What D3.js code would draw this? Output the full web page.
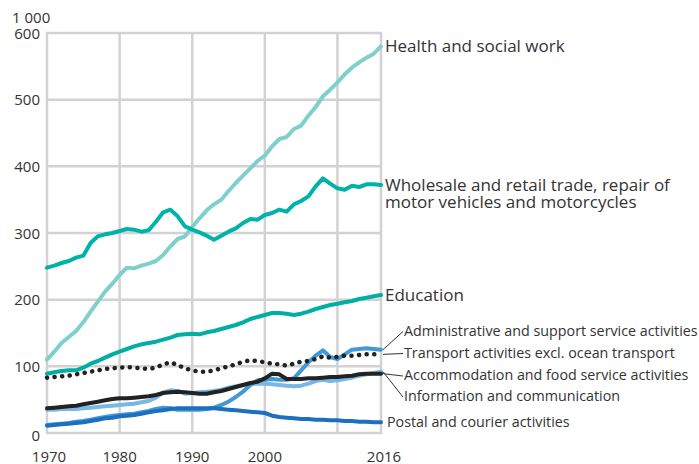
<!DOCTYPE html>
<html>
<head>
<meta charset="utf-8">
<script src="https://cdn.jsdelivr.net/npm/d3@7/dist/d3.min.js"></script>
<style>
  html, body { margin: 0; padding: 0; background: #fff; }
  svg { display: block; }
  text { font-family: "Open Sans", "Noto Sans", sans-serif; fill: #333; }
</style>
</head>
<body>
<svg id="chart" width="699" height="464"></svg>
<script>
// Employment by industry, thousands of persons, 1970–2016
const years = d3.range(1970, 2017);

const health = [110,122,135,144,153,166,182,197,212,224,237,248,247,251,254,258,267,280,291,295,
  309,322,334,343,350,363,375,386,397,408,416,430,441,444,456,461,476,489,505,515,526,538,548,556,563,569,580];
const wholesale = [248,251,255,258,263,266,285,295,298,300,303,306,305,302,304,317,331,335,325,310,
  305,301,296,290,296,302,307,315,321,320,327,330,335,332,343,348,355,370,382,374,367,365,371,369,373,373,372];
const education = [89,91,93,94,94,98,104,108,113,118,122,126,130,133,135,137,140,143,147,148,
  149,148,151,153,156,159,162,166,171,174,177,180,180,179,177,179,182,186,189,192,194,196,198,201,203,205,207];
const administrative = [12,13,14,15,17,18,20,22,24,26,27,28,29,31,33,36,38,37,35,35,
  35,35,36,38,42,47,54,62,72,79,80,81,80,80,82,94,106,116,124,114,111,118,125,126,127,126,125];
const transport = [83,84,85,86,88,90,92,94,96,97,98,99,98,97,96,98,103,106,102,97,
  94,92,92,94,97,100,103,107,109,108,106,104,103,101,104,107,108,111,115,113,114,116,116,117,118,118,118];
const accommodation = [37,38,39,40,41,43,45,47,49,51,52,52,53,54,55,57,60,61,62,61,
  60,59,59,61,63,66,69,72,75,77,82,89,88,81,81,81,82,82,83,84,84,85,86,88,89,89,89];
const information = [35,35,36,36,36,37,38,39,40,41,42,43,44,46,48,53,61,64,63,59,
  60,61,62,63,65,68,70,72,74,74,74,73,72,71,70,71,74,78,80,78,79,81,83,86,88,90,92];
const postal = [11,12,13,14,15,16,18,20,22,23,25,26,27,29,31,33,34,36,37,37,
  37,37,37,37,36,35,34,33,32,31,30,26,24,23,22,21,21,20,20,19,19,18,18,17,17,16,16];

const yTicks = [0, 100, 200, 300, 400, 500, 600];
const xGrid = [1970, 1980, 1990, 2000, 2010, 2016];
const xLabels = [1970, 1980, 1990, 2000, 2016];
const unitLabel = "1 000";

// Series in drawing order (later ones sit on top)
const series = [
  { values: health, color: "#7fd0ca" },
  { values: wholesale, color: "#00b3aa" },
  { values: education, color: "#00aea3" },
  { values: information, color: "#79b7e6" },
  { values: administrative, color: "#4199da" },
  { values: postal, color: "#1d6fc0" },
  { values: accommodation, color: "#222222" },
  { values: transport, color: "#222222", dotted: true }
];

const svg = d3.select("#chart");
const x = d3.scaleLinear().domain([1970, 2016]).range([47, 381]);
const y = d3.scaleLinear().domain([0, 600]).range([433, 33]);

const tickSize = 15;

// Grid
const grid = svg.append("g").attr("stroke", "#d2d2d2").attr("stroke-width", 2.5);
grid.selectAll("line.h").data(yTicks).join("line")
  .attr("x1", x(1970) - 1).attr("x2", x(2016) + 1)
  .attr("y1", d => y(d)).attr("y2", d => y(d));
grid.selectAll("line.v").data(xGrid).join("line")
  .attr("x1", d => x(d)).attr("x2", d => x(d))
  .attr("y1", y(600) - 1).attr("y2", y(0) + 1);

// Axis labels
svg.append("g").selectAll("text").data(yTicks).join("text")
  .attr("x", 40).attr("y", d => y(d) + 5.5 + (d === 0 ? 2 : 0))
  .attr("text-anchor", "end").attr("font-size", tickSize)
  .text(d => d);
svg.append("text").attr("x", 12).attr("y", 23).attr("font-size", tickSize).text(unitLabel);
svg.append("g").selectAll("text").data(xLabels).join("text")
  .attr("x", d => x(d) + (d === 2016 ? 3 : d === 1970 ? 2 : 0)).attr("y", 461.5)
  .attr("text-anchor", "middle").attr("font-size", tickSize)
  .text(d => d);

// Lines
const line = d3.line().x((d, i) => x(years[i])).y(d => y(d)).curve(d3.curveLinear);
svg.append("g").selectAll("path").data(series).join("path")
  .attr("d", d => line(d.values))
  .attr("fill", "none")
  .attr("stroke", d => d.color)
  .attr("stroke-width", d => d.dotted ? 4.5 : 4)
  .attr("stroke-linejoin", "round")
  .attr("stroke-linecap", "round")
  .attr("stroke-dasharray", d => d.dotted ? "0.1 7.5" : null);

// End labels
const last = arr => arr[arr.length - 1];
const labelX = 385, leaderX = 403;
const big = 17, small = 14.3;
const labels = [
  { lines: ["Health and social work"], x: labelX, y: y(last(health)), size: big },
  { lines: ["Wholesale and retail trade, repair of", "motor vehicles and motorcycles"], x: labelX, y: y(last(wholesale)), size: big },
  { lines: ["Education"], x: labelX, y: y(last(education)), size: big },
  { lines: ["Administrative and support service activities"], x: leaderX + 1, y: 330.5, from: last(administrative), size: small },
  { lines: ["Transport activities excl. ocean transport"], x: leaderX + 1, y: 352.5, from: last(transport), size: small },
  { lines: ["Accommodation and food service activities"], x: leaderX + 1, y: 375, from: last(accommodation), size: small },
  { lines: ["Information and communication"], x: leaderX + 1, y: 396, from: last(information), size: small },
  { lines: ["Postal and courier activities"], x: labelX + 2, y: y(last(postal)), size: small }
];

const lg = svg.append("g");
labels.forEach(l => {
  if (l.from !== undefined) {
    lg.append("line")
      .attr("x1", x(2016) + 2).attr("y1", y(l.from))
      .attr("x2", leaderX).attr("y2", l.y + 1)
      .attr("stroke", "#333").attr("stroke-width", 1);
  }
  const t = lg.append("text").attr("x", l.x).attr("y", l.y).attr("font-size", l.size);
  l.lines.forEach((s, i) => {
    t.append("tspan").attr("x", l.x).attr("dy", i === 0 ? "0.36em" : "1.0em").text(s);
  });
});
</script>
</body>
</html>
